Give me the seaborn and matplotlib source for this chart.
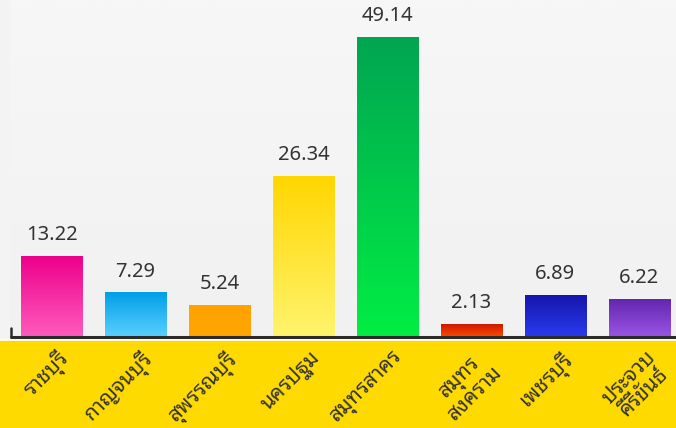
# Thai provinces bar chart with gradient bars
import matplotlib
matplotlib.use("Agg")
import numpy as np
import pandas as pd
import seaborn as sns
import matplotlib.pyplot as plt
from matplotlib.colors import LinearSegmentedColormap
from matplotlib.patches import Rectangle

provinces = ["ราชบุรี", "กาญจนบุรี", "สุพรรณบุรี", "นครปฐม", "สมุทรสาคร",
             "สมุทร\nสงคราม", "เพชรบุรี", "ประจวบ\nคีรีขันธ์"]
values = [13.22, 7.29, 5.24, 26.34, 49.14, 2.13, 6.89, 6.22]
top_colors = ["#EC008C", "#009FE8", "#FFA200", "#FFD600", "#00A551", "#C81400", "#1515A8", "#6326AE"]
bottom_colors = ["#FF5CBC", "#5AD0FF", "#FFA600", "#FFF46E", "#00EE44", "#FF4A00", "#2A3BF0", "#9A56E4"]

sns.set_style("white")
plt.rcParams['font.family'] = ['Noto Sans', 'DejaVu Sans']

df = pd.DataFrame({"province": provinces, "value": values})

fig = plt.figure(figsize=(6.76, 4.28), dpi=100)
fig.patch.set_facecolor("#F3F3F3")
# yellow band under the chart
fig.patches.append(Rectangle((0, 0), 1, 88 / 428, transform=fig.transFigure,
                             facecolor="#FFDA00", edgecolor="none", zorder=-5))

ax = fig.add_axes([10 / 676, 1 - 337 / 428, 666 / 676, 337 / 428])
ax.set_facecolor("#F3F3F3")

sns.barplot(data=df, x="province", y="value", ax=ax, width=0.727,
            color="#cccccc", saturation=1, errorbar=None)

# background gradient (slightly lighter at the top)
bg = LinearSegmentedColormap.from_list("bg", ["#F1F1F1", "#F7F7F7"])
ax.imshow(np.linspace(0, 1, 256).reshape(-1, 1), cmap=bg, aspect="auto",
          extent=[-0.495, 7.44, 0, 55.2], origin="lower", zorder=0)

for i, p in enumerate(ax.patches):
    x0, w, h = p.get_x(), p.get_width(), p.get_height()
    cmap = LinearSegmentedColormap.from_list("g%d" % i, [bottom_colors[i], top_colors[i]])
    im = ax.imshow(np.linspace(0, 1, 256).reshape(-1, 1), cmap=cmap, aspect="auto",
                   extent=[x0, x0 + w, 0, h], origin="lower", zorder=2)
    im.set_clip_path(p)
    p.set_facecolor("none")
    ax.annotate("%.2f" % values[i], (x0 + w / 2, h), xytext=(0, 11.5),
                textcoords="offset points", ha="center", va="baseline",
                fontsize=14.5, color="#333333", family=["Noto Sans", "DejaVu Sans"])

ax.set_xlim(-0.495, 7.44)
ax.set_ylim(0, 55.2)
ax.set_xticks([])
ax.set_yticks([])
ax.set_xlabel("")
ax.set_ylabel("")
for s in ax.spines.values():
    s.set_visible(False)

# baseline and little left tick
ax.plot([-0.495, 7.44], [0.08, 0.08], color="#2b2b2b", lw=2.2, zorder=3, clip_on=False, solid_capstyle="butt")
ax.plot([-0.488, -0.488], [0, 1.5], color="#2b2b2b", lw=1.8, zorder=3, clip_on=False)

# white separator line above the yellow band
fig.add_artist(plt.Line2D([0, 1], [1 - 339.5 / 428] * 2, color="white", lw=1.2, transform=fig.transFigure))

for i, name in enumerate(provinces):
    ax.annotate(name, (i, 0), xytext=(4, -7), textcoords="offset points",
                rotation=45, ha="right", va="top", rotation_mode="anchor",
                multialignment="center", fontsize=15, color="#333333",
                family=["Noto Sans Thai Looped", "DejaVu Sans"], linespacing=1.0,
                annotation_clip=False, zorder=5)

fig.savefig("out.png", dpi=100, facecolor=fig.get_facecolor())
